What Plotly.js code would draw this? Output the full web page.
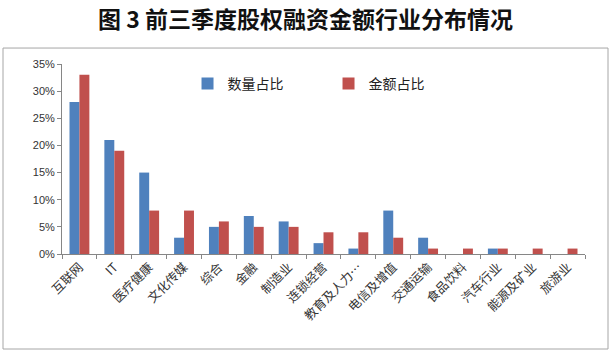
<!DOCTYPE html>
<html><head><meta charset="utf-8">
<script src="https://cdn.plot.ly/plotly-3.0.1.min.js"></script>
<style>html,body{margin:0;padding:0;background:#fff}#c{width:611px;height:355px}</style>
</head><body><div id="c"></div>
<script>
const categories = ['互联网','IT','医疗健康','文化传媒','综合','金融','制造业','连锁经营','教育及人力…','电信及增值','交通运输','食品饮料','汽车行业','能源及矿业','旅游业'];
const countShare = [28,21,15,3,5,7,6,2,1,8,3,0,1,0,0];
const amountShare = [33,19,8,8,6,5,5,4,4,3,1,1,1,1,1];
const yTicks = [0,5,10,15,20,25,30,35];
const seriesNames = ['数量占比','金额占比'];

const cjk = '"Noto Sans CJK SC", "Noto Sans", sans-serif';
const data = [
  {type:'bar', x:categories, y:countShare, name:seriesNames[0], marker:{color:'#4F81BD'}},
  {type:'bar', x:categories, y:amountShare, name:seriesNames[1], marker:{color:'#C0504D'}}
];
const layout = {
  width:611, height:355,
  margin:{l:62, r:26, t:64, b:101},
  paper_bgcolor:'#fff', plot_bgcolor:'#fff',
  barmode:'group', bargap:0.43, bargroupgap:0,
  showlegend:true,
  legend:{orientation:'h', x:0.24, y:0.98, xanchor:'left', yanchor:'top',
    font:{family:cjk, size:14, color:'#222'}, itemwidth:30, traceorder:'normal',
    bgcolor:'rgba(0,0,0,0)', entrywidth:96},
  title:{text:'<b>图 3 前三季度股权融资金额行业分布情况</b>', x:0.5, xanchor:'center', y:0.945, yanchor:'middle',
    font:{family:cjk, size:23, color:'#111'}},
  xaxis:{type:'category', showline:true, linecolor:'#868686', linewidth:1,
    ticks:'outside', ticklen:4, tickcolor:'#868686', tickson:'boundaries',
    tickangle:-45, tickfont:{family:cjk, size:12.5, color:'#333'}, showgrid:false},
  yaxis:{range:[0,35], tickvals:yTicks, ticktext:yTicks.map(v=>v+'%'),
    showline:true, linecolor:'#868686', linewidth:1, ticks:'outside', ticklen:4, tickcolor:'#868686',
    showgrid:false, zeroline:false, tickfont:{family:'"Liberation Sans", Arial, sans-serif', size:11, color:'#333'}},
  shapes:[{type:'rect', xref:'paper', yref:'paper', x0:-0.1128, x1:1.044, y0:-0.5, y1:1.084,
    line:{color:'#a6a6a6', width:1}, fillcolor:'rgba(0,0,0,0)', layer:'below'}]
};
Plotly.newPlot('c', data, layout, {displayModeBar:false, staticPlot:true});
</script>
</body></html>
